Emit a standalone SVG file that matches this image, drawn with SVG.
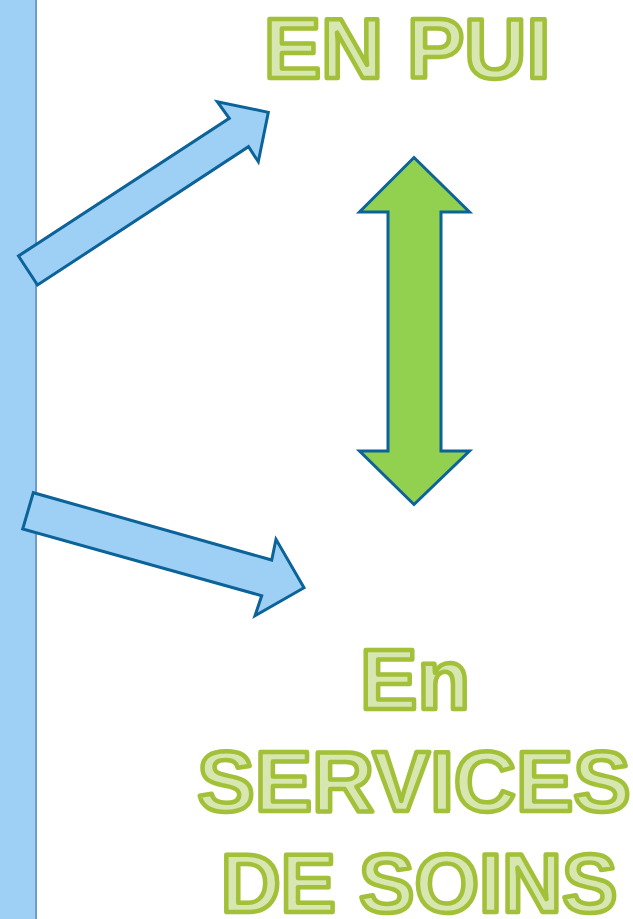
<svg xmlns="http://www.w3.org/2000/svg" width="633" height="919" viewBox="0 0 633 919">
<style>
.blue{fill:#9ECFF4;stroke:#0B6399;stroke-width:3;stroke-linejoin:miter}
.green{fill:#92D050;stroke:#0B6399;stroke-width:3}
.lbl{font-family:"Liberation Sans",Arial,sans-serif;font-weight:bold;font-size:86px;fill:#D8E6B2;stroke:#A2C139;stroke-width:4.5;stroke-linejoin:round;text-anchor:middle}
</style>
<rect width="633" height="919" fill="#ffffff"/>
<g id="bar">
<rect x="0" y="0" width="36" height="919" fill="#9ECFF4"/>
<line x1="36" y1="0" x2="36" y2="919" stroke="#6F9CC4" stroke-width="2"/>
</g>
<g id="connectors">
<polygon class="blue" points="18.5,256 37.5,285 248.5,146.7 258.3,161.7 268.3,112.3 217.3,101.7 229.3,118.3"/>
<polygon class="blue" points="33.3,492.7 22.7,529 261.7,595.7 255,615.7 304,587.7 276,539.3 271.7,560"/>
<polygon class="green" points="414,157.5 469.5,212 441,212 441,451 469.5,451 414,504.5 359.5,451 388,451 388,212 359.5,212"/>
</g>
<g id="pui"><text class="lbl" x="407" y="77.5">EN PUI</text></g>
<g id="services">
<text class="lbl" x="415" y="709">En</text>
<text class="lbl" x="414" y="811">SERVICES</text>
<text class="lbl" x="419" y="912" style="font-size:83px">DE SOINS</text>
</g>
</svg>
